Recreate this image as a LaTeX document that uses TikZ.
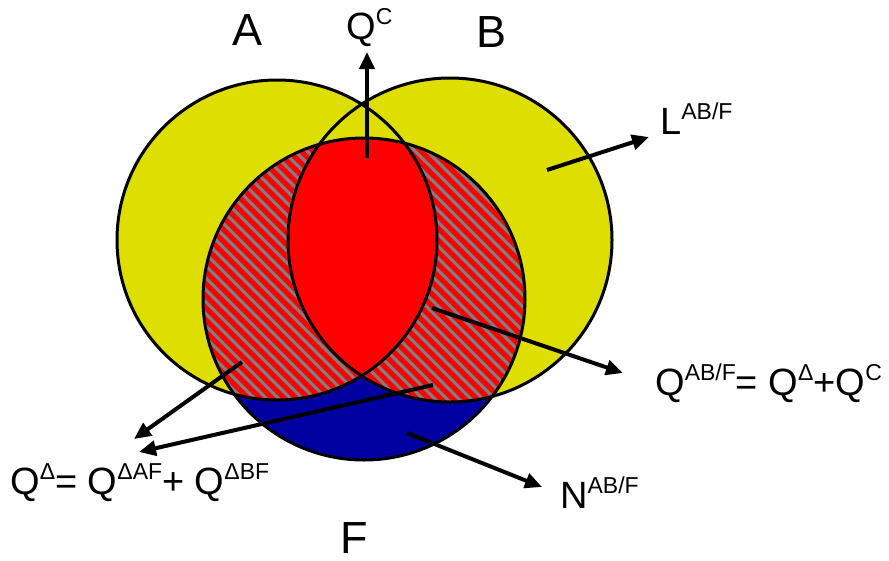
\documentclass[tikz,border=0pt]{standalone}
\usepackage{fontspec}
\setmainfont{Liberation Sans}
\usetikzlibrary{arrows.meta}
\definecolor{vyellow}{RGB}{222,222,0}
\definecolor{vred}{RGB}{255,0,0}
\definecolor{vblue}{RGB}{0,0,160}
\definecolor{vgray}{RGB}{128,128,128}
\newcommand{\mysup}[1]{\raisebox{15pt}{\fontsize{23}{25}\selectfont #1}}
\tikzset{
  circline/.style={draw=black, line width=3pt},
  arr/.style={line width=4pt, -{Triangle[length=17pt,width=15pt]}, shorten >=0pt},
  biglabel/.style={font=\fontsize{45}{50}\selectfont, inner sep=0pt, anchor=base, text depth=0pt},
  lbl/.style={font=\fontsize{38}{42}\selectfont, inner sep=0pt, anchor=base west},
  hatchline/.style={vgray, line width=3pt},
}
\begin{document}
\begin{tikzpicture}[x=1pt,y=-1pt]
\useasboundingbox (0,0) rectangle (889,560);
\def\circA{(277,240) circle[radius=160]}
\def\circB{(450,240) circle[radius=162]}
\def\circF{(364,299) circle[radius=161]}
% yellow A and B
\fill[vyellow] \circA;
\fill[vyellow] \circB;
% blue F
\fill[vblue] \circF;
% red inside F and (A or B)
\begin{scope}
  \clip \circF;
  \fill[vred] \circA;
  \fill[vred] \circB;
\end{scope}
% hatch in F and A
\begin{scope}
  \clip \circF;
  \clip \circA;
  \foreach \c in {-336,-324,...,456}
    \draw[hatchline] (\c+80,80) -- (\c+520,520);
\end{scope}
\begin{scope}
  \clip \circF;
  \clip \circB;
  \foreach \c in {-336,-324,...,456}
    \draw[hatchline] (\c+80,80) -- (\c+520,520);
\end{scope}
% solid red in A and B and F
\begin{scope}
  \clip \circF;
  \clip \circA;
  \fill[vred] \circB;
\end{scope}
% outlines
\draw[circline] \circA;
\draw[circline] \circB;
\draw[circline] \circF;

% labels
\node[biglabel] (la) at (248,45) {A};
\node[biglabel] (lb) at (492,47) {B};
\node[biglabel] (lf) at (354,553) {F};
\node[lbl] (lqc) at (346,39) {Q\mysup{C}};
\node[lbl] (ll) at (660,134) {L\mysup{AB/F}};
\node[lbl] (lqab) at (655,395) {Q\mysup{AB/F}= Q\mysup{Δ}+Q\mysup{C}};
\node[lbl] (ln) at (560,508) {N\mysup{AB/F}};
\node[lbl] (lqd) at (10,494) {Q\mysup{Δ}= Q\mysup{ΔAF}+ Q\mysup{ΔBF}};

% arrow end points
\coordinate (qcS) at (367,158);
\coordinate (qcE) at (367,52);
\coordinate (lS) at (547,170);
\coordinate (lE) at (649,137);
\coordinate (qabS) at (432,308);
\coordinate (qabE) at (623,373);
\coordinate (d1S) at (242,362);
\coordinate (d1E) at (134,439);
\coordinate (d2S) at (433,385);
\coordinate (d2E) at (139,452);
\coordinate (nS) at (407,433);
\coordinate (nE) at (542,487);

\draw[arr] (qcS) -- (qcE);
\draw[arr] (lS) -- (lE);
\draw[arr] (qabS) -- (qabE);
\draw[arr] (d1S) -- (d1E);
\draw[arr] (d2S) -- (d2E);
\draw[arr] (nS) -- (nE);
\end{tikzpicture}
\end{document}
